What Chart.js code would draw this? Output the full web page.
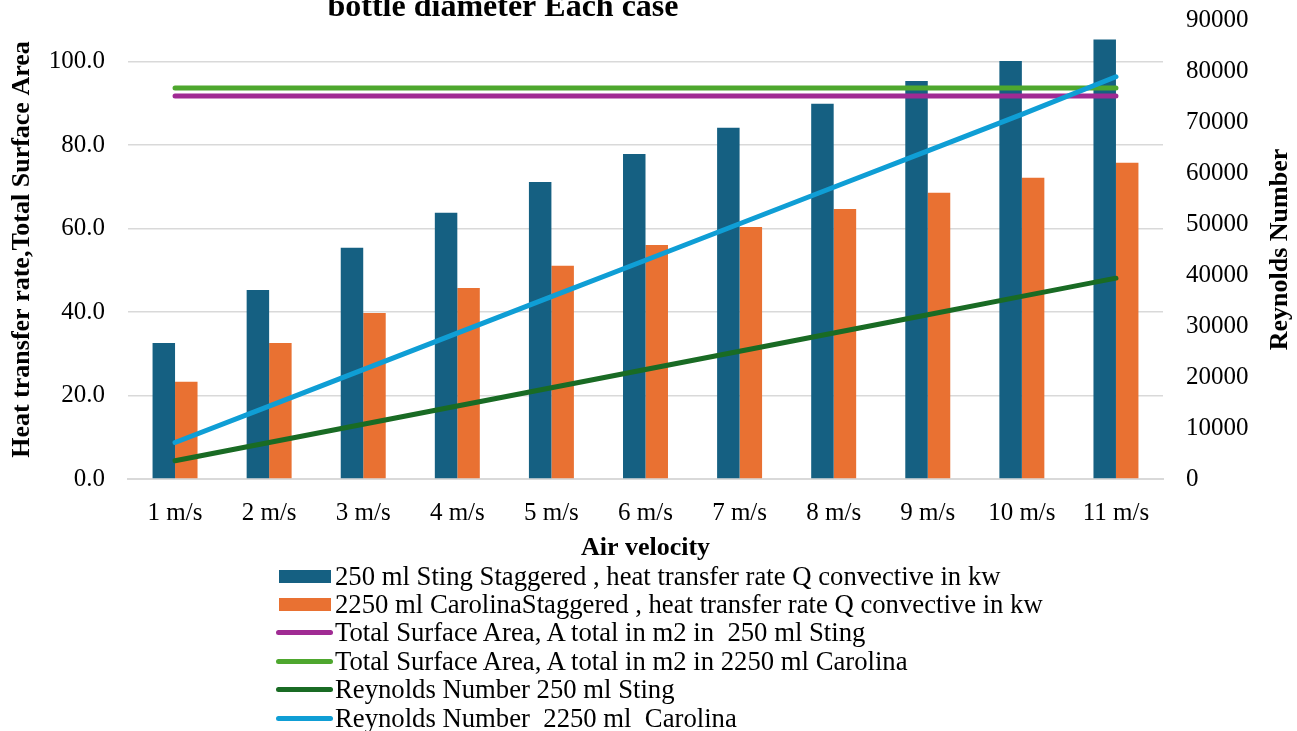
<!DOCTYPE html>
<html>
<head>
<meta charset="utf-8">
<script src="https://cdn.jsdelivr.net/npm/chart.js@4.4.1/dist/chart.umd.min.js"></script>
<style>
  html, body { margin: 0; padding: 0; background: #ffffff; }
  #wrap { position: relative; width: 1297px; height: 731px; overflow: hidden; }
  #chart { position: absolute; left: 0; top: 0; }
  #legend {
    position: absolute; left: 276px; top: 562px;
    font-family: "Liberation Serif", "Times New Roman", serif;
    font-size: 26.7px; color: #000;
  }
  .row { display: flex; align-items: center; height: 28.4px; white-space: pre; }
  .sw { width: 57px; height: 14px; margin-right: 2px; display: flex; align-items: center; justify-content: center; }
  .sw .box { width: 52px; height: 13px; }
  .sw .ln { width: 57px; height: 5px; border-radius: 3px; }
</style>
</head>
<body>
<div id="wrap">
  <canvas id="chart" width="1297" height="731"></canvas>
  <div id="legend"></div>
</div>
<script>
// Categories (air velocity)
const categories = ['1 m/s', '2 m/s', '3 m/s', '4 m/s', '5 m/s', '6 m/s', '7 m/s', '8 m/s', '9 m/s', '10 m/s', '11 m/s'];

// Heat transfer rate, Q convective (kW)
const qSting250 = [32.6, 45.3, 55.4, 63.8, 71.2, 77.9, 84.2, 89.9, 95.4, 100.2, 105.3];
const qCarolina2250 = [23.3, 32.6, 39.8, 45.8, 51.1, 56.1, 60.4, 64.7, 68.6, 72.2, 75.8];

// Total surface area (m2)
const areaSting250 = [91.8, 91.8, 91.8, 91.8, 91.8, 91.8, 91.8, 91.8, 91.8, 91.8, 91.8];
const areaCarolina2250 = [93.7, 93.7, 93.7, 93.7, 93.7, 93.7, 93.7, 93.7, 93.7, 93.7, 93.7];

// Reynolds numbers
const reSting250 = [3580, 7160, 10740, 14320, 17900, 21480, 25060, 28640, 32220, 35800, 39380];
const reCarolina2250 = [7150, 14300, 21450, 28600, 35750, 42900, 50050, 57200, 64350, 71500, 78880];

// Text
const chartTitle = 'bottle diameter Each case';
const leftAxisTitle = 'Heat transfer rate,Total Surface Area';
const rightAxisTitle = 'Reynolds Number';
const xAxisTitle = 'Air velocity';
const seriesNames = [
  '250 ml Sting Staggered , heat transfer rate Q convective in kw',
  '2250 ml CarolinaStaggered , heat transfer rate Q convective in kw',
  'Total Surface Area, A total in m2 in  250 ml Sting',
  'Total Surface Area, A total in m2 in 2250 ml Carolina',
  'Reynolds Number 250 ml Sting',
  'Reynolds Number  2250 ml  Carolina'
];

const FONT = '"Liberation Serif", "Times New Roman", serif';
const GRID = '#d9d9d9';

const extraText = {
  id: 'extraText',
  afterDraw(chart) {
    const { ctx, chartArea } = chart;
    ctx.save();
    ctx.fillStyle = '#000';
    ctx.textAlign = 'center';
    ctx.font = 'bold 32px ' + FONT;
    ctx.textBaseline = 'alphabetic';
    ctx.fillText(chartTitle, 503, 16);
    ctx.translate(1280, (chartArea.top + chartArea.bottom) / 2);
    ctx.rotate(-Math.PI / 2);
    ctx.font = 'bold 26px ' + FONT;
    ctx.textBaseline = 'middle';
    ctx.fillText(rightAxisTitle, 0, 0);
    ctx.restore();
  }
};

const lineStyle = (color) => ({
  type: 'line',
  borderColor: color,
  backgroundColor: color,
  borderWidth: 5,
  borderCapStyle: 'round',
  borderJoinStyle: 'round',
  pointRadius: 0,
  pointHoverRadius: 0,
  tension: 0,
  fill: false
});

// Vertical axes: fixed width, no extra room reserved for the end labels
const fitVertical = (width) => (scale) => {
  scale.width = width;
  scale.paddingTop = 0;
  scale.paddingBottom = 0;
};

const chart = new Chart(document.getElementById('chart'), {
  type: 'bar',
  data: {
    labels: categories,
    datasets: [
      { type: 'bar', label: seriesNames[0], data: qSting250, backgroundColor: '#156082', yAxisID: 'y', order: 10 },
      { type: 'bar', label: seriesNames[1], data: qCarolina2250, backgroundColor: '#E97132', yAxisID: 'y', order: 11 },
      Object.assign(lineStyle('#A02B93'), { label: seriesNames[2], data: areaSting250, yAxisID: 'y', order: 4 }),
      Object.assign(lineStyle('#4EA72E'), { label: seriesNames[3], data: areaCarolina2250, yAxisID: 'y', order: 3 }),
      Object.assign(lineStyle('#196B24'), { label: seriesNames[4], data: reSting250, yAxisID: 'y1', order: 2 }),
      Object.assign(lineStyle('#0F9ED5'), { label: seriesNames[5], data: reCarolina2250, yAxisID: 'y1', order: 1 })
    ]
  },
  options: {
    responsive: false,
    animation: false,
    layout: { padding: { left: 0, right: 0, top: 20, bottom: 167 } },
    datasets: { bar: { categoryPercentage: 0.478, barPercentage: 1.0 } },
    plugins: {
      legend: { display: false },
      title: { display: false },
      tooltip: { enabled: false }
    },
    scales: {
      x: {
        grid: { display: false, drawTicks: false },
        border: { display: true, color: GRID, width: 2 },
        ticks: { color: '#000', font: { family: FONT, size: 25 }, padding: 19, maxRotation: 0, autoSkip: false },
        title: { display: true, text: xAxisTitle, color: '#000', font: { family: FONT, size: 26, weight: 'bold' }, padding: { top: 0, bottom: 0 } },
        afterFit(scale) { scale.height = 85; scale.paddingLeft = 0; scale.paddingRight = 0; }
      },
      y: {
        position: 'left',
        min: 0, max: 110,
        grid: { color: GRID, lineWidth: 1.5, drawTicks: false },
        border: { display: false },
        ticks: { stepSize: 20, color: '#000', font: { family: FONT, size: 25 }, padding: 23, callback: (v) => v.toFixed(1) },
        afterBuildTicks(scale) { scale.ticks = scale.ticks.filter(t => t.value <= 100); },
        title: { display: true, text: leftAxisTitle, color: '#000', font: { family: FONT, size: 26, weight: 'bold' }, padding: { top: 7, bottom: 0 } },
        afterFit: fitVertical(128)
      },
      y1: {
        position: 'right',
        min: 0, max: 90000,
        grid: { display: false, drawTicks: false },
        border: { display: false },
        ticks: { stepSize: 10000, color: '#000', font: { family: FONT, size: 25 }, padding: 23, callback: (v) => String(v) },
        afterFit: fitVertical(134)
      }
    }
  },
  plugins: [extraText]
});

// Legend built from the chart's datasets
const legend = document.getElementById('legend');
chart.data.datasets.forEach((ds) => {
  const row = document.createElement('div');
  row.className = 'row';
  const sw = document.createElement('div');
  sw.className = 'sw';
  const mark = document.createElement('div');
  mark.className = ds.type === 'bar' ? 'box' : 'ln';
  mark.style.background = ds.type === 'bar' ? ds.backgroundColor : ds.borderColor;
  sw.appendChild(mark);
  const txt = document.createElement('span');
  txt.textContent = ds.label;
  row.appendChild(sw);
  row.appendChild(txt);
  legend.appendChild(row);
});
</script>
</body>
</html>
